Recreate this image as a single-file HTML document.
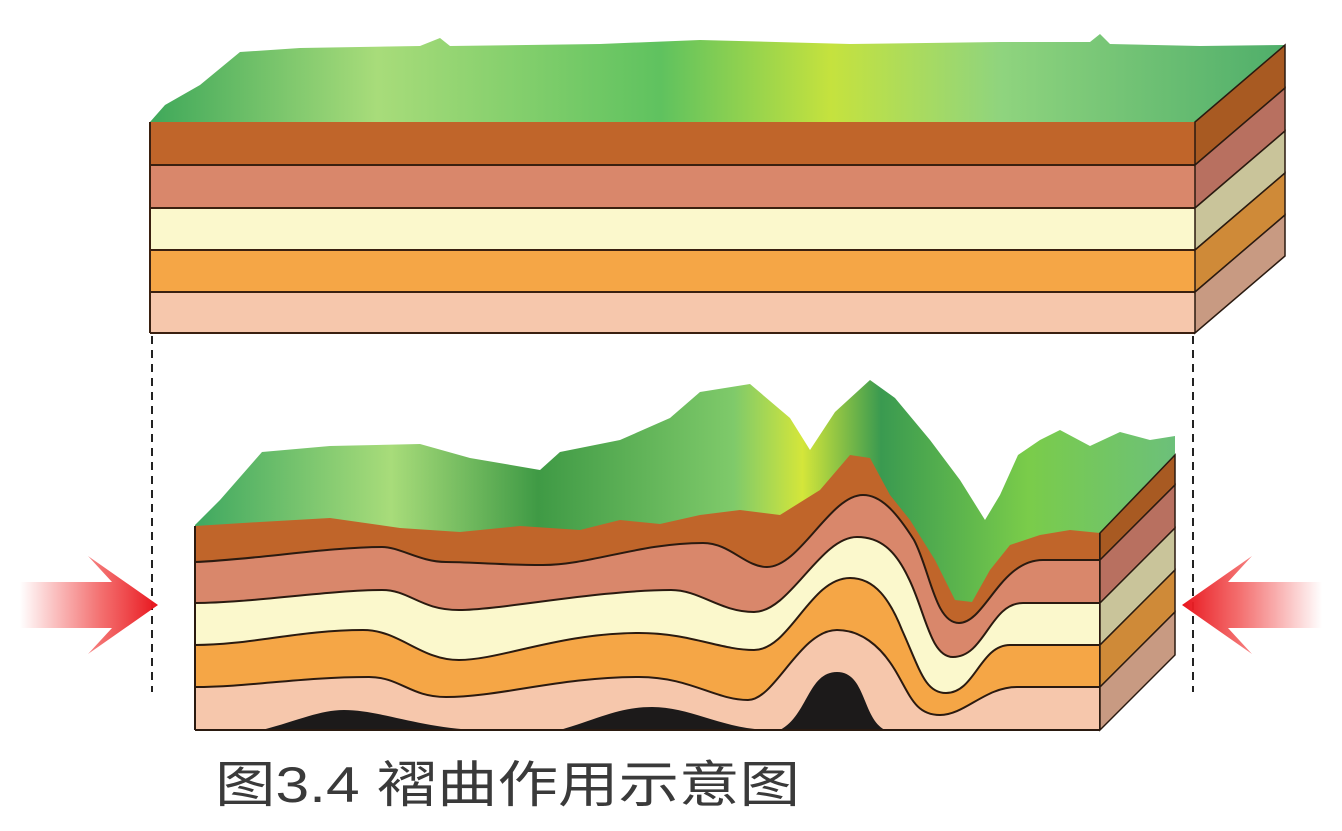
<!DOCTYPE html>
<html><head><meta charset="utf-8"><style>
html,body{margin:0;padding:0;background:#fff;}
svg{display:block;}
</style></head><body>
<svg width="1342" height="831" viewBox="0 0 1342 831" xmlns="http://www.w3.org/2000/svg">
<defs>
<linearGradient id="gtop" x1="0" y1="0" x2="1" y2="0">
<stop offset="0" stop-color="#3fa85a"/><stop offset="0.2" stop-color="#a8dc7a"/><stop offset="0.45" stop-color="#5fc25f"/><stop offset="0.6" stop-color="#c5e23e"/><stop offset="0.75" stop-color="#8fd47e"/><stop offset="1" stop-color="#4fae6a"/>
</linearGradient>
<linearGradient id="gbot" x1="0" y1="0" x2="1" y2="0">
<stop offset="0" stop-color="#3fa860"/><stop offset="0.2" stop-color="#a8dc7a"/><stop offset="0.35" stop-color="#3f9a45"/><stop offset="0.55" stop-color="#7fca6a"/><stop offset="0.62" stop-color="#d4e63a"/><stop offset="0.7" stop-color="#3a9a50"/><stop offset="0.85" stop-color="#7acc4a"/><stop offset="1" stop-color="#6cc07a"/>
</linearGradient>
<linearGradient id="arrL" x1="0" y1="0" x2="1" y2="0">
<stop offset="0" stop-color="#f04040" stop-opacity="0"/><stop offset="0.6" stop-color="#f04848" stop-opacity="0.8"/><stop offset="1" stop-color="#e8141c"/>
</linearGradient>
<linearGradient id="arrR" x1="1" y1="0" x2="0" y2="0">
<stop offset="0" stop-color="#f04040" stop-opacity="0"/><stop offset="0.6" stop-color="#f04848" stop-opacity="0.8"/><stop offset="1" stop-color="#e8141c"/>
</linearGradient>
</defs>

<g>
<path fill="url(#gtop)" d="M150,122 L165,105 L200,85 L240,52 L300,48 L420,46 L440,38 L450,46 L600,44 L700,40 L850,44 L1000,42 L1090,42 L1100,34 L1110,44 L1200,46 L1285,45 L1195,122 Z"/>
<rect x="150" y="122" width="1045" height="43" fill="#c0652a"/>
<rect x="150" y="165" width="1045" height="43" fill="#d9876b"/>
<rect x="150" y="208" width="1045" height="42" fill="#fbf8cc"/>
<rect x="150" y="250" width="1045" height="42" fill="#f5a646"/>
<rect x="150" y="292" width="1045" height="41" fill="#f6c7ac"/>
<g stroke="#3a2010" stroke-width="2" fill="none">
<line x1="150" y1="165" x2="1195" y2="165"/><line x1="150" y1="208" x2="1195" y2="208"/><line x1="150" y1="250" x2="1195" y2="250"/><line x1="150" y1="292" x2="1195" y2="292"/><line x1="150" y1="333" x2="1195" y2="333"/>
<line x1="150" y1="122" x2="150" y2="333"/>
</g>
<g stroke="#2a1a10" stroke-width="1.5">
<path fill="#a85a22" d="M1195,122 L1285,45 L1285,88 L1195,165 Z"/>
<path fill="#b87060" d="M1195,165 L1285,88 L1285,131 L1195,208 Z"/>
<path fill="#c9c49a" d="M1195,208 L1285,131 L1285,173 L1195,250 Z"/>
<path fill="#cf8a38" d="M1195,250 L1285,173 L1285,215 L1195,292 Z"/>
<path fill="#c89a82" d="M1195,292 L1285,215 L1285,256 L1195,333 Z"/>
</g>
</g>

<line x1="152" y1="336" x2="152" y2="692" stroke="#222" stroke-width="2" stroke-dasharray="8,6"/>
<line x1="1193" y1="336" x2="1193" y2="692" stroke="#222" stroke-width="2" stroke-dasharray="8,6"/>

<g>
<path fill="url(#gbot)" d="M195,525 L220,500 L262,452 L330,446 L420,444 L470,458 L540,470 L560,452 L620,440 L670,418 L700,392 L750,384 L790,418 L810,450 L835,412 L870,380 L895,398 L930,440 L960,480 L985,520 L1000,495 L1018,455 L1040,440 L1060,430 L1090,446 L1120,432 L1150,440 L1175,436 L1175,470 L1100,535 L1043,560 L959,623 L914,540 L863,495 L767,567 L703,543 L543,565 L446,562 L382,547 L195,562 Z"/>
<path fill="#c0652a" d="M195,526 L260,522 L330,518 L400,528 L460,532 L520,526 L580,530 L620,520 L660,524 L700,515 L740,510 L780,515 L820,490 L850,455 L870,458 L890,495 L910,520 L935,560 L955,600 L972,602 L990,570 L1010,545 L1040,535 L1070,530 L1100,533 L1100,730 L195,730 Z"/>
<path fill="#d9876b" d="M195,562 C250,560 330,547 382,547 C400,547 420,562 446,562 C470,562 500,565 543,565 C590,565 640,543 703,543 C730,543 745,567 767,567 C800,567 830,495 863,495 C880,495 895,510 914,540 C930,570 935,623 959,623 C985,623 1000,560 1043,560 L1100,560 L1100,730 L195,730 Z"/>
<path fill="#fbf8cc" d="M195,603 C250,603 330,590 382,590 C410,590 420,610 459,610 C500,610 600,590 671,590 C700,590 720,612 754,612 C790,612 820,537 857,537 C880,537 895,550 908,577 C925,610 930,657 953,657 C985,657 990,603 1023,603 L1100,603 L1100,730 L195,730 Z"/>
<path fill="#f5a646" d="M195,645 C250,645 300,630 363,630 C400,630 420,660 459,660 C500,660 560,633 639,633 C690,633 720,650 754,650 C790,650 810,578 850,578 C875,578 890,600 902,630 C920,670 925,693 946,693 C975,693 980,645 1010,645 L1100,645 L1100,730 L195,730 Z"/>
<path fill="#f6c7ac" d="M195,687 C250,687 300,677 369,677 C400,677 410,697 446,697 C500,697 560,677 639,677 C690,677 715,700 748,700 C775,700 800,630 837,630 C860,630 880,645 895,670 C910,695 915,715 940,715 C965,715 985,687 1017,687 L1100,687 L1100,730 L195,730 Z"/>
<path fill="#1c1a1a" d="M262,730 C300,720 320,710 344,710 C380,710 420,728 478,730 Z M560,730 C600,718 620,707 652,707 C690,707 720,728 767,730 Z M780,730 C808,715 808,672 837,672 C866,672 862,718 885,730 Z"/>
<g stroke="#2a1a10" stroke-width="2" fill="none">
<path d="M195,562 C250,560 330,547 382,547 C400,547 420,562 446,562 C470,562 500,565 543,565 C590,565 640,543 703,543 C730,543 745,567 767,567 C800,567 830,495 863,495 C880,495 895,510 914,540 C930,570 935,623 959,623 C985,623 1000,560 1043,560 L1100,560"/>
<path d="M195,603 C250,603 330,590 382,590 C410,590 420,610 459,610 C500,610 600,590 671,590 C700,590 720,612 754,612 C790,612 820,537 857,537 C880,537 895,550 908,577 C925,610 930,657 953,657 C985,657 990,603 1023,603 L1100,603"/>
<path d="M195,645 C250,645 300,630 363,630 C400,630 420,660 459,660 C500,660 560,633 639,633 C690,633 720,650 754,650 C790,650 810,578 850,578 C875,578 890,600 902,630 C920,670 925,693 946,693 C975,693 980,645 1010,645 L1100,645"/>
<path d="M195,687 C250,687 300,677 369,677 C400,677 410,697 446,697 C500,697 560,677 639,677 C690,677 715,700 748,700 C775,700 800,630 837,630 C860,630 880,645 895,670 C910,695 915,715 940,715 C965,715 985,687 1017,687 L1100,687"/>
<line x1="195" y1="526" x2="195" y2="730"/><line x1="195" y1="730" x2="1100" y2="730"/><line x1="1100" y1="533" x2="1100" y2="730"/>
</g>
<g stroke="#2a1a10" stroke-width="1.5">
<path fill="#a85a22" d="M1100,533 L1175,455 L1175,485 L1100,560 Z"/>
<path fill="#b87060" d="M1100,560 L1175,485 L1175,528 L1100,603 Z"/>
<path fill="#c9c49a" d="M1100,603 L1175,528 L1175,570 L1100,645 Z"/>
<path fill="#cf8a38" d="M1100,645 L1175,570 L1175,612 L1100,687 Z"/>
<path fill="#c89a82" d="M1100,687 L1175,612 L1175,655 L1100,730 Z"/>
</g>
</g>

<path fill="url(#arrL)" d="M20,582 L112,582 L88,556 L158,605 L88,654 L112,628 L20,628 Z"/>
<path fill="url(#arrR)" d="M1322,582 L1228,582 L1252,556 L1182,605 L1252,654 L1228,628 L1322,628 Z"/>

<text x="215" y="802" font-family="Liberation Sans, Noto Sans CJK SC, sans-serif" font-size="50" fill="#3a3a3a" textLength="585" lengthAdjust="spacingAndGlyphs">图3.4  褶曲作用示意图</text>
</svg>
</body></html>
